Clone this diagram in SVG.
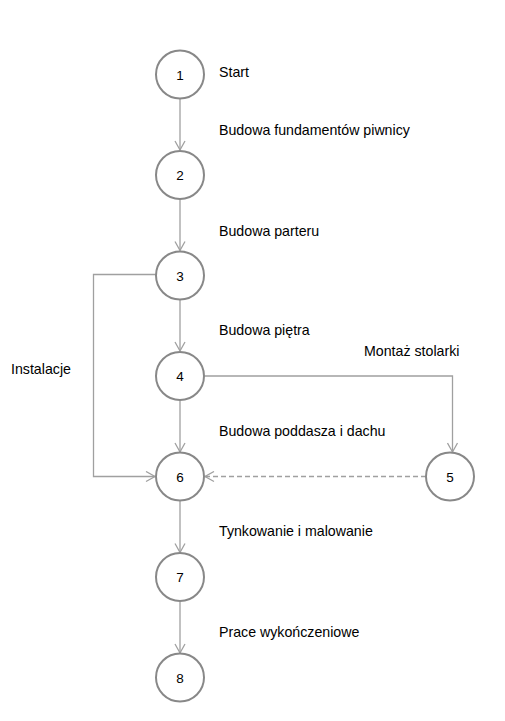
<svg xmlns="http://www.w3.org/2000/svg" width="505" height="721" viewBox="0 0 505 721">
<style>
.node circle{fill:#fff;stroke:#888;stroke-width:2}
.node text{font-family:"Liberation Sans",Arial,sans-serif;font-size:13.5px;fill:#000;text-anchor:middle}
.lbl{font-family:"Liberation Sans",Arial,sans-serif;font-size:14.2px;fill:#000}
.edge{fill:none;stroke:#a0a0a0;stroke-width:1.3}
.dash{stroke-dasharray:5,3}
</style>
<defs>
<marker id="arr" markerWidth="12" markerHeight="12" refX="10" refY="6" orient="auto" markerUnits="userSpaceOnUse">
<path d="M1,1 L10,6 L1,11" fill="none" stroke="#a0a0a0" stroke-width="1.3"/>
</marker>
</defs>
<rect width="505" height="721" fill="#fff"/>
<g id="connectors">
<path class="edge" d="M180,98.5 V150" marker-end="url(#arr)"/>
<path class="edge" d="M180,199 V250.5" marker-end="url(#arr)"/>
<path class="edge" d="M180,299.5 V351" marker-end="url(#arr)"/>
<path class="edge" d="M180,400 V452" marker-end="url(#arr)"/>
<path class="edge" d="M180,501 V552.5" marker-end="url(#arr)"/>
<path class="edge" d="M180,601.5 V653" marker-end="url(#arr)"/>
<path class="edge" d="M156,274.5 H93.5 V476.5 H155" marker-end="url(#arr)"/>
<path class="edge" d="M204,376 H452.5 V452" marker-end="url(#arr)"/>
<path class="edge dash" d="M426,476.5 H205" marker-end="url(#arr)"/>
</g>
<g id="node1" class="node"><circle cx="180" cy="74.5" r="24"/><text x="180" y="79.5">1</text></g>
<g id="node2" class="node"><circle cx="180" cy="175" r="24"/><text x="180" y="180">2</text></g>
<g id="node3" class="node"><circle cx="180" cy="275.5" r="24"/><text x="180" y="280.5">3</text></g>
<g id="node4" class="node"><circle cx="180" cy="376" r="24"/><text x="180" y="381">4</text></g>
<g id="node6" class="node"><circle cx="180" cy="476.5" r="24"/><text x="180" y="481.5">6</text></g>
<g id="node5" class="node"><circle cx="450" cy="476.5" r="24"/><text x="450" y="481.5">5</text></g>
<g id="node7" class="node"><circle cx="180" cy="577" r="24"/><text x="180" y="582">7</text></g>
<g id="node8" class="node"><circle cx="180" cy="677.5" r="24"/><text x="180" y="682.5">8</text></g>
<g id="labels">
<text class="lbl" x="219" y="77">Start</text>
<text class="lbl" x="219" y="135">Budowa fundamentów piwnicy</text>
<text class="lbl" x="219" y="236">Budowa parteru</text>
<text class="lbl" x="219" y="335">Budowa piętra</text>
<text class="lbl" x="364" y="356">Montaż stolarki</text>
<text class="lbl" x="11" y="374">Instalacje</text>
<text class="lbl" x="219" y="436">Budowa poddasza i dachu</text>
<text class="lbl" x="219" y="536">Tynkowanie i malowanie</text>
<text class="lbl" x="219" y="637">Prace wykończeniowe</text>
</g>
</svg>
